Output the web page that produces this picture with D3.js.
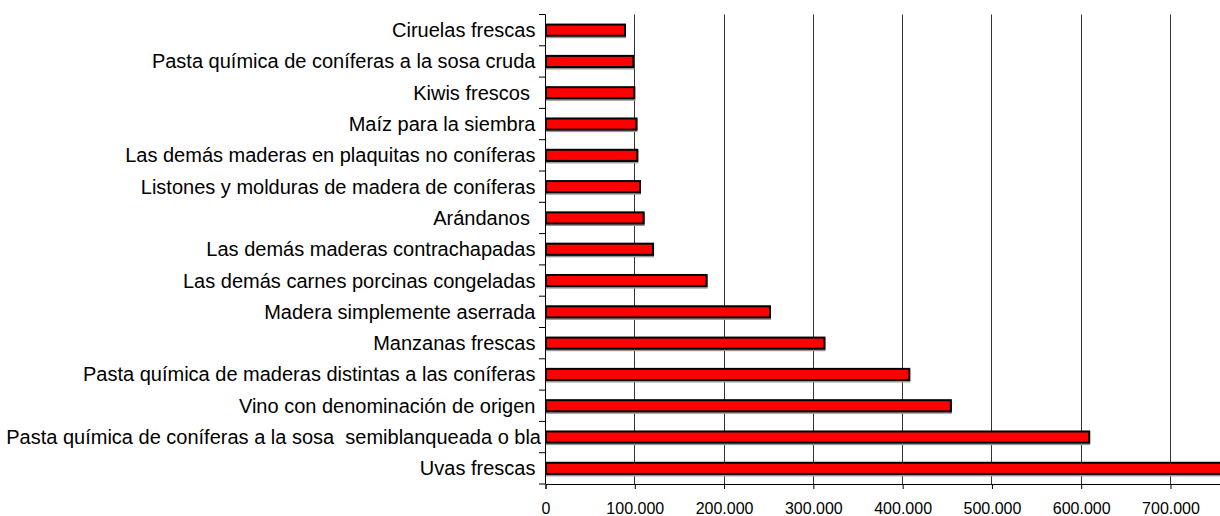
<!DOCTYPE html>
<html>
<head>
<meta charset="utf-8">
<script src="https://cdn.jsdelivr.net/npm/d3@7"></script>
<style>
  body { margin: 0; background: #fff; }
  text { font-family: "Liberation Sans", Arial, sans-serif; white-space: pre; }
</style>
</head>
<body>
<div id="chart"></div>
<script>
// categories, top to bottom (trailing spaces as in the original labels)
var products = [
  "Ciruelas frescas ",
  "Pasta química de coníferas a la sosa cruda ",
  "Kiwis frescos  ",
  "Maíz para la siembra ",
  "Las demás maderas en plaquitas no coníferas ",
  "Listones y molduras de madera de coníferas ",
  "Arándanos  ",
  "Las demás maderas contrachapadas ",
  "Las demás carnes porcinas congeladas ",
  "Madera simplemente aserrada ",
  "Manzanas frescas ",
  "Pasta química de maderas distintas a las coníferas ",
  "Vino con denominación de origen ",
  "Pasta química de coníferas a la sosa  semiblanqueada o bla",
  "Uvas frescas "
];
var values = [89600, 98900, 100000, 102500, 103400, 106400, 110500, 121000,
              181000, 252000, 313000, 408000, 454600, 609500, 800000];
var xTicks = [0, 100000, 200000, 300000, 400000, 500000, 600000, 700000];
var xTickLabels = ["0", "100.000", "200.000", "300.000", "400.000", "500.000", "600.000", "700.000"];

var svgWidth = 1220;
var svgHeight = 516;
var margin = { top: 14.5, right: 0, bottom: 32, left: 545 };

var width = svgWidth - margin.left - margin.right;
var height = svgHeight - margin.top - margin.bottom;

var svg = d3.select("#chart")
  .append("svg")
  .attr("width", svgWidth)
  .attr("height", svgHeight);

var chartGroup = svg.append("g")
  .attr("transform", `translate(${margin.left}, ${margin.top})`);

var xScale = d3.scaleLinear()
  .domain([0, 756000])
  .range([0, width]);

var yScale = d3.scaleBand()
  .domain(products)
  .range([0, height])
  .paddingInner(0.58)
  .paddingOuter(0.29);

svg.append("defs").append("clipPath")
  .attr("id", "plotclip")
  .append("rect")
  .attr("x", 0).attr("y", -5)
  .attr("width", width).attr("height", height + 10);

// vertical gridlines
chartGroup.selectAll(".grid")
  .data(xTicks.slice(1))
  .enter()
  .append("line")
  .attr("x1", d => Math.round(xScale(d)) + 0.5)
  .attr("x2", d => Math.round(xScale(d)) + 0.5)
  .attr("y1", 0)
  .attr("y2", height)
  .attr("stroke", "#333")
  .attr("stroke-width", 1);

var bars = chartGroup.append("g").attr("clip-path", "url(#plotclip)");

// little grey shadow under each bar
bars.selectAll(".shadow")
  .data(values)
  .enter()
  .append("rect")
  .attr("x", 1)
  .attr("y", (d, i) => yScale(products[i]) + 1.5)
  .attr("width", d => xScale(d))
  .attr("height", yScale.bandwidth())
  .attr("fill", "#999");

bars.selectAll(".bar")
  .data(values)
  .enter()
  .append("rect")
  .attr("x", 1)
  .attr("y", (d, i) => yScale(products[i]) + 1)
  .attr("width", d => xScale(d) - 1)
  .attr("height", yScale.bandwidth() - 2)
  .attr("fill", "#ff0000")
  .attr("stroke", "#000")
  .attr("stroke-width", 2);

// y axis line + ticks at band edges
chartGroup.append("line")
  .attr("x1", 0.5).attr("x2", 0.5)
  .attr("y1", 0).attr("y2", height)
  .attr("stroke", "#000");

var step = yScale.step();
var edges = d3.range(products.length + 1).map(i => i * step);
chartGroup.selectAll(".ytick")
  .data(edges)
  .enter()
  .append("line")
  .attr("x1", -6).attr("x2", 0.5)
  .attr("y1", d => d).attr("y2", d => d)
  .attr("stroke", "#000");

// category labels
chartGroup.selectAll(".ylabel")
  .data(products)
  .enter()
  .append("text")
  .attr("x", -4)
  .attr("y", d => yScale(d) + yScale.bandwidth() / 2)
  .attr("dy", "0.35em")
  .attr("text-anchor", "end")
  .attr("font-size", "20px")
  .attr("fill", "#000")
  .text(d => d);

// x axis
var bottomAxis = d3.axisBottom(xScale)
  .tickValues(xTicks)
  .tickFormat((d, i) => xTickLabels[i])
  .tickSizeOuter(0)
  .tickSize(5)
  .tickPadding(14);

var xAxisGroup = chartGroup.append("g")
  .attr("transform", `translate(0.5, ${height})`)
  .call(bottomAxis);

xAxisGroup.select(".domain").attr("stroke", "#000");
xAxisGroup.selectAll("line").attr("stroke", "#000");
xAxisGroup.selectAll("text")
  .attr("font-size", "16px")
  .attr("font-family", "Liberation Sans, Arial, sans-serif")
  .attr("fill", "#000");
</script>
</body>
</html>
